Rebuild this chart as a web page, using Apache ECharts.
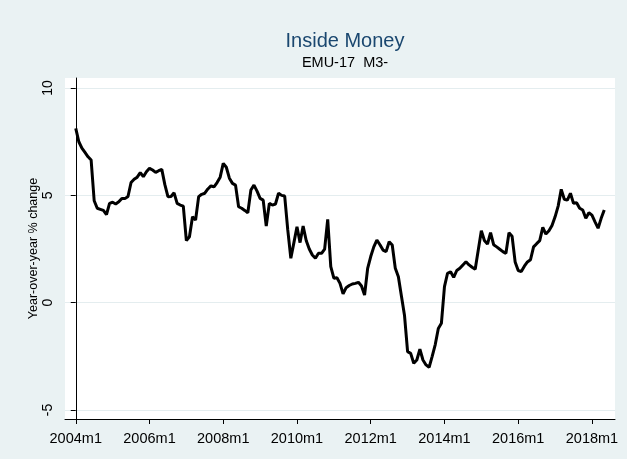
<!DOCTYPE html>
<html>
<head>
<meta charset="utf-8">
<script src="https://cdn.jsdelivr.net/npm/echarts@6/dist/echarts.min.js"></script>
<style>
  html, body { margin: 0; padding: 0; background: #eaf2f3; }
  #chart { width: 627px; height: 459px; }
</style>
</head>
<body>
<div id="chart"></div>
<script>
// monthly values, 2004m1 .. 2018m5
const startYear = 2004;
const values = [
  8.12, 7.5, 7.2, 7.0, 6.8, 6.65, 4.75, 4.4, 4.35, 4.3, 4.1, 4.63,
  4.68, 4.6, 4.7, 4.86, 4.85, 4.95, 5.6, 5.75, 5.85, 6.06, 5.87, 6.1,
  6.26, 6.18, 6.07, 6.15, 6.21, 5.5, 4.94, 4.95, 5.12, 4.63, 4.55, 4.5,
  2.89, 3.07, 4.0, 3.85, 4.94, 5.05, 5.1, 5.3, 5.44, 5.4, 5.6, 5.85,
  6.49, 6.31, 5.8, 5.56, 5.48, 4.47, 4.4, 4.3, 4.19, 5.25, 5.48, 5.2,
  4.86, 4.78, 3.57, 4.63, 4.55, 4.6, 5.1, 5.0, 4.97, 3.39, 2.07, 2.8,
  3.54, 2.8, 3.57, 2.9, 2.5, 2.22, 2.07, 2.3, 2.3, 2.5, 3.88, 1.68,
  1.14, 1.16, 0.9, 0.41, 0.7, 0.8, 0.87, 0.9, 0.95, 0.78, 0.36, 1.6,
  2.15, 2.6, 2.92, 2.7, 2.45, 2.38, 2.84, 2.69, 1.6, 1.21, 0.3, -0.6,
  -2.28, -2.36, -2.82, -2.67, -2.17, -2.67, -2.9, -3.01, -2.5, -1.95, -1.2, -0.96,
  0.75, 1.37, 1.44, 1.18, 1.5, 1.6, 1.76, 1.91, 1.76, 1.65, 1.56, 2.45,
  3.35, 2.9, 2.73, 3.26, 2.7, 2.6, 2.49, 2.38, 2.3, 3.26, 3.1, 1.9,
  1.5, 1.45, 1.7, 1.9, 2.0, 2.6, 2.75, 2.89, 3.51, 3.2, 3.35, 3.6,
  4.0, 4.5, 5.28, 4.82, 4.78, 5.1, 4.63, 4.66, 4.4, 4.32, 3.93, 4.19,
  4.08, 3.77, 3.47, 3.93, 4.32
];
const xTicks = [0, 24, 48, 72, 96, 120, 144, 168];
const yTicks = [-5, 0, 5, 10];

const chart = echarts.init(document.getElementById('chart'));
const font = 'Liberation Sans, Arial, sans-serif';

chart.setOption({
  backgroundColor: '#eaf2f3',
  animation: false,
  title: {
    text: 'Inside Money',
    subtext: 'EMU-17  M3-',
    left: 340,
    textAlign: 'center',
    top: 26,
    itemGap: 4,
    textStyle: { color: '#1a476f', fontSize: 20, fontWeight: 'normal', fontFamily: font },
    subtextStyle: { color: '#000', fontSize: 14.5, fontFamily: font }
  },
  grid: {
    left: 65, right: 12, top: 78, bottom: 40,
    show: true, backgroundColor: '#fff', borderWidth: 0
  },
  xAxis: {
    type: 'value',
    min: -3.5,
    max: 175.5,
    axisLine: { show: true, onZero: false, lineStyle: { color: '#000', width: 1 } },
    axisTick: { show: true, length: 5, customValues: xTicks, lineStyle: { color: '#000' } },
    axisLabel: {
      customValues: xTicks,
      margin: 12,
      color: '#000', fontSize: 14.5, fontFamily: font,
      formatter: v => (startYear + Math.round(v) / 12) + 'm1'
    },
    splitLine: { show: false }
  },
  yAxis: {
    type: 'value',
    min: -5.42,
    max: 10.47,
    name: 'Year-over-year % change',
    nameLocation: 'middle',
    nameGap: 25,
    nameMoveOverlap: false,
    nameTextStyle: { color: '#000', fontSize: 12.5, fontFamily: font },
    axisLine: { show: true, lineStyle: { color: '#000', width: 1 } },
    axisTick: { show: true, length: 5, customValues: yTicks, lineStyle: { color: '#000' } },
    axisLabel: {
      customValues: yTicks,
      rotate: 90,
      margin: 10,
      color: '#000', fontSize: 14, fontFamily: font
    },
    splitLine: { show: true, lineStyle: { color: '#e4edef', width: 1 } }
  },
  series: [{
    type: 'line',
    data: values.map((v, i) => [i, v]),
    showSymbol: false,
    lineStyle: { color: '#000', width: 3 },
    itemStyle: { color: '#000' }
  }]
});
</script>
</body>
</html>
